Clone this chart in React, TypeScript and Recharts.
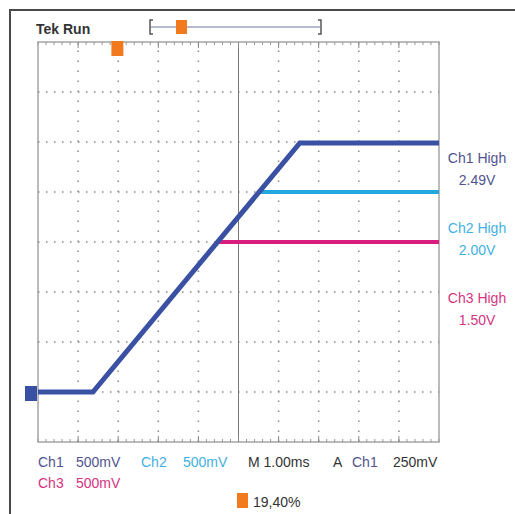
import React from 'react'
import { LineChart, Line, XAxis, YAxis, ReferenceLine, ReferenceArea, ReferenceDot } from 'recharts'

// time in ms (M 1.00ms/div), volts (500mV/div)
const CH1 = [
  { t: 0, v: 0 },
  { t: 1.37, v: 0 },
  { t: 6.53, v: 2.49 },
  { t: 10, v: 2.49 },
]
const CH2 = [
  { t: 5.51, v: 2.0 },
  { t: 10, v: 2.0 },
]
const CH3 = [
  { t: 4.49, v: 1.5 },
  { t: 10, v: 1.5 },
]
const TIME_DIVS = [1, 2, 3, 4, 6, 7, 8, 9]
const VOLT_DIVS = [0, 0.5, 1, 1.5, 2, 2.5, 3]
const MINOR_T = Array.from({ length: 51 }, (_, i) => +(i * 0.2).toFixed(1))
const MAJOR_T = [1, 2, 3, 4, 5, 6, 7, 8, 9]
const TRIGGER_MS = 1.98
const V_MIN = -0.5
const V_MAX = 3.5

const C1 = '#3a51a3'
const C2 = '#22a8df'
const C3 = '#d81c80'
const T1 = '#50538f'
const T2 = '#3fb1e2'
const T3 = '#d6347f'
const ORANGE = '#f27a1e'
const FONT = '"Liberation Sans", Arial, sans-serif'

function Txt({ x, y, color = '#333', children, bold = false, size = 14, center = false }: any) {
  return (
    <div style={{
      position: 'absolute', left: center ? x - 50 : x, top: y - size / 2 - 1, width: center ? 100 : undefined,
      textAlign: center ? 'center' : 'left', fontFamily: FONT, fontSize: size, lineHeight: `${size + 2}px`,
      color, fontWeight: bold ? 700 : 400, whiteSpace: 'nowrap',
    }}>{children}</div>
  )
}

export default function App() {
  return (
    <div style={{ position: 'absolute', left: 0, top: 0, width: 515, height: 514, background: '#fff', overflow: 'hidden' }}>
      {/* outer frame */}
      <div style={{ position: 'absolute', left: 9, top: 9, width: 506, height: 2, background: '#4a4a4a' }} />
      <div style={{ position: 'absolute', left: 9, top: 9, width: 2, height: 505, background: '#4a4a4a' }} />

      <LineChart width={515} height={514} margin={{ top: 42, right: 76, bottom: 72, left: 38 }}
        style={{ position: 'absolute', left: 0, top: 0 }}>
        <XAxis dataKey="t" type="number" domain={[0, 10]} allowDataOverflow hide />
        <YAxis type="number" domain={[V_MIN, V_MAX]} allowDataOverflow hide />

        {VOLT_DIVS.map((v) => (
          <ReferenceLine key={'h' + v} y={v} stroke="#8a8a8a" strokeWidth={1.5} strokeDasharray="1.5 6.5" />
        ))}
        {TIME_DIVS.map((t) => (
          <ReferenceLine key={'v' + t} x={t} stroke="#8a8a8a" strokeWidth={1.5} strokeDasharray="1.5 8.5" />
        ))}
        <ReferenceLine x={5} stroke="#777" strokeWidth={1} />

        {/* edge ticks, top and bottom */}
        {MINOR_T.map((t) => (
          <ReferenceLine key={'bm' + t} segment={[{ x: t, y: V_MIN }, { x: t, y: V_MIN + 0.03 }]} stroke="#999" strokeWidth={1} />
        ))}
        {MINOR_T.map((t) => (
          <ReferenceLine key={'tm' + t} segment={[{ x: t, y: V_MAX }, { x: t, y: V_MAX - 0.03 }]} stroke="#999" strokeWidth={1} />
        ))}
        {MAJOR_T.map((t) => (
          <ReferenceLine key={'bM' + t} segment={[{ x: t, y: V_MIN }, { x: t, y: V_MIN + 0.06 }]} stroke="#888" strokeWidth={1} />
        ))}
        {MAJOR_T.map((t) => (
          <ReferenceLine key={'tM' + t} segment={[{ x: t, y: V_MAX }, { x: t, y: V_MAX - 0.06 }]} stroke="#888" strokeWidth={1} />
        ))}

        <ReferenceArea x1={0} x2={10} y1={V_MIN} y2={V_MAX} fill="none" stroke="#a5a5a5" strokeWidth={1.5} ifOverflow="visible" />

        <Line data={CH3} dataKey="v" type="linear" stroke={C3} strokeWidth={4} dot={false} isAnimationActive={false} />
        <Line data={CH2} dataKey="v" type="linear" stroke={C2} strokeWidth={4} dot={false} isAnimationActive={false} />
        <Line data={CH1} dataKey="v" type="linear" stroke={C1} strokeWidth={5} dot={false} isAnimationActive={false}
          strokeLinejoin="miter" />

        <ReferenceDot x={TRIGGER_MS} y={V_MAX} r={1} ifOverflow="visible"
          shape={(p: any) => <rect x={p.cx - 6} y={p.cy - 1} width={12} height={15} fill={ORANGE} />} />
        <ReferenceDot x={0} y={0} r={1} ifOverflow="visible"
          shape={(p: any) => <rect x={p.cx - 13} y={p.cy - 6} width={12} height={15} fill={C1} />} />
      </LineChart>

      {/* header */}
      <Txt x={36} y={29} bold size={14} color="#333">Tek Run</Txt>
      <svg width={515} height={40} style={{ position: 'absolute', left: 0, top: 0 }}>
        <path d="M153 20 H150 V34 H153" fill="none" stroke="#555" strokeWidth={1.5} />
        <path d="M318 20 H321 V34 H318" fill="none" stroke="#555" strokeWidth={1.5} />
        <line x1={151} y1={27} x2={320} y2={27} stroke="#9ea3c4" strokeWidth={1.5} />
        <rect x={176} y={20} width={11} height={14} fill={ORANGE} />
      </svg>

      {/* right readouts */}
      <Txt x={477} y={158} center color={T1}>Ch1 High</Txt>
      <Txt x={477} y={180} center color={T1}>2.49V</Txt>
      <Txt x={477} y={228} center color={T2}>Ch2 High</Txt>
      <Txt x={477} y={250} center color={T2}>2.00V</Txt>
      <Txt x={477} y={298} center color={T3}>Ch3 High</Txt>
      <Txt x={477} y={320} center color={T3}>1.50V</Txt>

      {/* bottom readouts */}
      <Txt x={38} y={462} color={T1}>Ch1</Txt>
      <Txt x={76} y={462} color={T1}>500mV</Txt>
      <Txt x={141} y={462} color={T2}>Ch2</Txt>
      <Txt x={183} y={462} color={T2}>500mV</Txt>
      <Txt x={248} y={462} color="#333">M 1.00ms</Txt>
      <Txt x={333} y={462} color="#333">A</Txt>
      <Txt x={352} y={462} color={T1}>Ch1</Txt>
      <Txt x={393} y={462} color="#333">250mV</Txt>
      <Txt x={38} y={483} color={T3}>Ch3</Txt>
      <Txt x={76} y={483} color={T3}>500mV</Txt>
      <div style={{ position: 'absolute', left: 237, top: 493, width: 11, height: 15, background: ORANGE }} />
      <Txt x={253} y={502} color="#333">19,40%</Txt>
    </div>
  )
}
